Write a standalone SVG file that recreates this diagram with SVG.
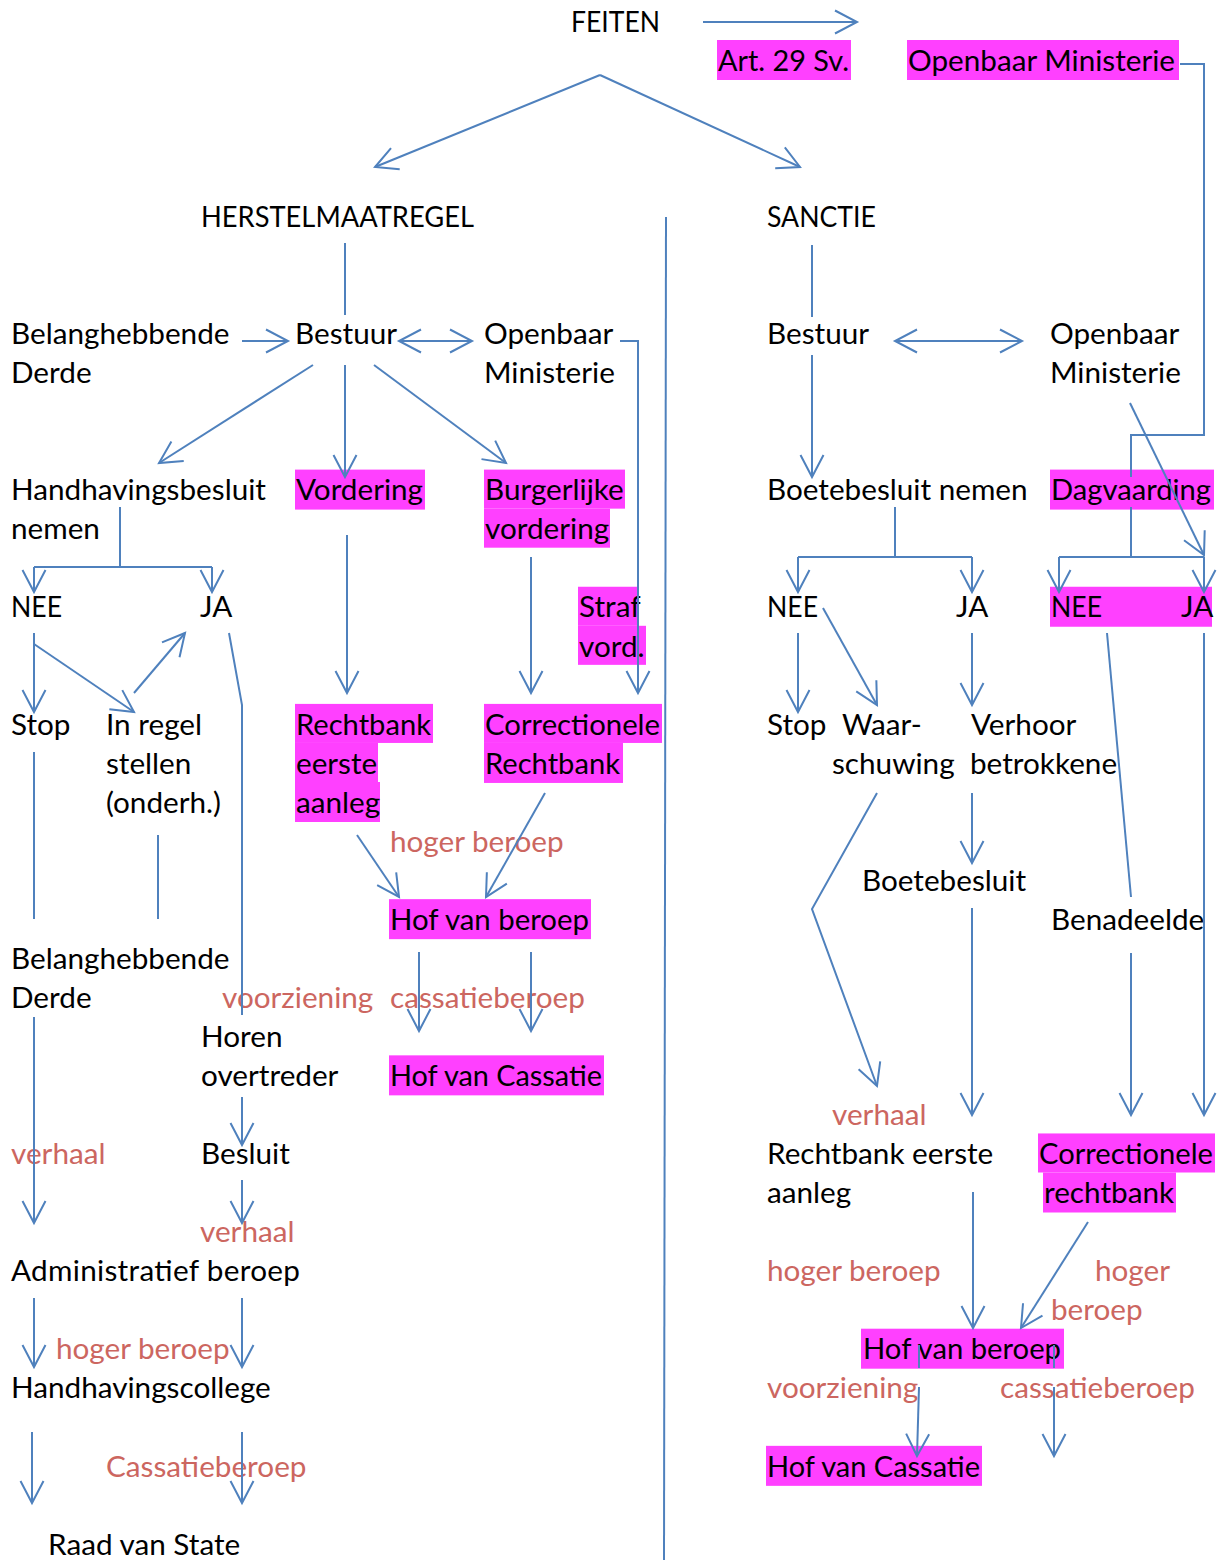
<svg xmlns="http://www.w3.org/2000/svg" width="1224" height="1560" viewBox="0 0 1224 1560">
<style>
text{font-family:Lato,"Liberation Sans",sans-serif;font-size:29.7px;fill:#000}
text.r{fill:#CC6660}
rect.h{fill:#FF40FF;stroke:none}
#connectors path{fill:none;stroke:#4F81BD;stroke-width:2}
path.a{marker-end:url(#ah)}
path.d{marker-start:url(#ah);marker-end:url(#ah)}
</style>
<defs>
<marker id="ah" markerUnits="userSpaceOnUse" markerWidth="40" markerHeight="40" viewBox="-30 -20 40 40" refX="0" refY="0" orient="auto-start-reverse" overflow="visible">
<path d="M-22,-11.5 L0,0 L-22,11.5" fill="none" stroke="#4F81BD" stroke-width="2"/>
</marker>
</defs>
<rect width="1224" height="1560" fill="#fff"/>
<g id="n-feiten"><text x="571" y="31.7" textLength="89" lengthAdjust="spacingAndGlyphs">FEITEN</text></g>
<g id="n-art29"><rect class="h" x="717" y="40" width="134" height="40"/><text x="718" y="70.75" textLength="131" lengthAdjust="spacingAndGlyphs">Art. 29 Sv.</text></g>
<g id="n-om-top"><rect class="h" x="907" y="40" width="272" height="40"/><text x="908" y="70.75" textLength="267" lengthAdjust="spacingAndGlyphs">Openbaar Ministerie</text></g>
<g id="n-herstel"><text x="201" y="226.95" textLength="273" lengthAdjust="spacingAndGlyphs">HERSTELMAATREGEL</text></g>
<g id="n-sanctie"><text x="767" y="226.95" textLength="109" lengthAdjust="spacingAndGlyphs">SANCTIE</text></g>
<g id="n-belang1"><text x="11" y="344.1">Belanghebbende</text><text x="11" y="383.15">Derde</text></g>
<g id="n-bestuur-l"><text x="295" y="344.1">Bestuur</text></g>
<g id="n-om-l"><text x="484" y="344.1">Openbaar</text><text x="484" y="383.15">Ministerie</text></g>
<g id="n-bestuur-r"><text x="767" y="344.1">Bestuur</text></g>
<g id="n-om-r"><text x="1050" y="344.1">Openbaar</text><text x="1050" y="383.15">Ministerie</text></g>
<g id="n-handhavingsbesluit"><text x="11" y="500.3">Handhavingsbesluit</text><text x="11" y="539.35">nemen</text></g>
<g id="n-vordering"><rect class="h" x="295" y="469.6" width="130" height="40"/><text x="296" y="500.3" textLength="127" lengthAdjust="spacingAndGlyphs">Vordering</text></g>
<g id="n-burgerlijke"><rect class="h" x="484" y="469.6" width="141" height="39.05"/><rect class="h" x="484" y="508.65" width="126" height="39.05"/><text x="485" y="500.3">Burgerlijke</text><text x="485" y="539.35">vordering</text></g>
<g id="n-boetebesluit-nemen"><text x="767" y="500.3">Boetebesluit nemen</text></g>
<g id="n-dagvaarding"><rect class="h" x="1050" y="469.6" width="164" height="40"/><text x="1051" y="500.3" textLength="160" lengthAdjust="spacingAndGlyphs">Dagvaarding</text></g>
<g id="n-nee-l"><text x="11" y="617.45" textLength="51" lengthAdjust="spacingAndGlyphs">NEE</text></g>
<g id="n-ja-l"><text x="200" y="617.45">JA</text></g>
<g id="n-straf"><rect class="h" x="578" y="586.75" width="61" height="39.05"/><rect class="h" x="578" y="625.8" width="68" height="39.05"/><text x="579" y="617.45">Straf</text><text x="579" y="656.5">vord.</text></g>
<g id="n-nee-r"><text x="767" y="617.45" textLength="51" lengthAdjust="spacingAndGlyphs">NEE</text></g>
<g id="n-ja-r"><text x="956" y="617.45">JA</text></g>
<g id="n-neeja"><rect class="h" x="1050" y="586.75" width="162" height="40"/><text x="1051" y="617.45" textLength="51" lengthAdjust="spacingAndGlyphs">NEE</text><text x="1181" y="617.45">JA</text></g>
<g id="n-stop-l"><text x="11" y="734.6">Stop</text></g>
<g id="n-inregel"><text x="106" y="734.6">In regel</text><text x="106" y="773.65">stellen</text><text x="106" y="812.7">(onderh.)</text></g>
<g id="n-rechtbank-ea"><rect class="h" x="295" y="703.9" width="138" height="39.05"/><rect class="h" x="295" y="742.95" width="83" height="39.05"/><rect class="h" x="295" y="782" width="85" height="40"/><text x="296" y="734.6" textLength="135" lengthAdjust="spacingAndGlyphs">Rechtbank</text><text x="296" y="773.65">eerste</text><text x="296" y="812.7">aanleg</text></g>
<g id="n-correctionele-m"><rect class="h" x="484" y="703.9" width="178" height="39.05"/><rect class="h" x="484" y="742.95" width="139" height="40"/><text x="485" y="734.6" textLength="175" lengthAdjust="spacingAndGlyphs">Correctionele</text><text x="485" y="773.65" textLength="135" lengthAdjust="spacingAndGlyphs">Rechtbank</text></g>
<g id="n-stop-r"><text x="767" y="734.6">Stop</text></g>
<g id="n-waarschuwing"><text x="842" y="734.6">Waar-</text><text x="832" y="773.65">schuwing</text></g>
<g id="n-verhoor"><text x="971" y="734.6">Verhoor</text><text x="970" y="773.65">betrokkene</text></g>
<g id="l-hoger-beroep-m"><text class="r" x="390" y="851.75">hoger beroep</text></g>
<g id="n-boetebesluit"><text x="862" y="890.8">Boetebesluit</text></g>
<g id="n-hof-beroep-m"><rect class="h" x="389" y="899.15" width="202" height="40"/><text x="390" y="929.85" textLength="199" lengthAdjust="spacingAndGlyphs">Hof van beroep</text></g>
<g id="n-benadeelde"><text x="1051" y="929.85">Benadeelde</text></g>
<g id="n-belang2"><text x="11" y="968.9">Belanghebbende</text><text x="11" y="1007.95">Derde</text></g>
<g id="l-voorziening-m"><text class="r" x="222" y="1007.95">voorziening</text></g>
<g id="l-cassatie-m"><text class="r" x="390" y="1007.95">cassatieberoep</text></g>
<g id="n-horen"><text x="201" y="1047">Horen</text><text x="201" y="1086.05">overtreder</text></g>
<g id="n-hof-cassatie-m"><rect class="h" x="389" y="1055.35" width="215" height="40"/><text x="390" y="1086.05" textLength="212" lengthAdjust="spacingAndGlyphs">Hof van Cassatie</text></g>
<g id="l-verhaal-r"><text class="r" x="832" y="1125.1">verhaal</text></g>
<g id="l-verhaal-l1"><text class="r" x="11" y="1164.15">verhaal</text></g>
<g id="n-besluit"><text x="201" y="1164.15">Besluit</text></g>
<g id="n-rechtbank-ea-r"><text x="767" y="1164.15">Rechtbank eerste</text><text x="767" y="1203.2">aanleg</text></g>
<g id="n-correctionele-r"><rect class="h" x="1038" y="1133.45" width="177" height="39.05"/><rect class="h" x="1043" y="1172.5" width="133" height="40"/><text x="1039" y="1164.15" textLength="174" lengthAdjust="spacingAndGlyphs">Correctionele</text><text x="1044" y="1203.2">rechtbank</text></g>
<g id="l-verhaal-l2"><text class="r" x="200" y="1242.25">verhaal</text></g>
<g id="n-administratief"><text x="11" y="1281.3" textLength="289" lengthAdjust="spacing">Administratief beroep</text></g>
<g id="l-hoger-beroep-r"><text class="r" x="767" y="1281.3">hoger beroep</text></g>
<g id="l-hoger-beroep-r2"><text class="r" x="1095" y="1281.3">hoger</text><text class="r" x="1051" y="1320.35">beroep</text></g>
<g id="l-hoger-beroep-l"><text class="r" x="56" y="1359.4">hoger beroep</text></g>
<g id="n-hof-beroep-r"><rect class="h" x="861" y="1328.7" width="203" height="40"/><text x="863" y="1359.4" textLength="198" lengthAdjust="spacingAndGlyphs">Hof van beroep</text></g>
<g id="n-handhavingscollege"><text x="11" y="1398.45">Handhavingscollege</text></g>
<g id="l-voorziening-r"><text class="r" x="767" y="1398.45">voorziening</text></g>
<g id="l-cassatie-r"><text class="r" x="1000" y="1398.45">cassatieberoep</text></g>
<g id="l-cassatieberoep-l"><text class="r" x="106" y="1476.55">Cassatieberoep</text></g>
<g id="n-hof-cassatie-r"><rect class="h" x="766" y="1445.85" width="216" height="40"/><text x="767" y="1476.55" textLength="213" lengthAdjust="spacingAndGlyphs">Hof van Cassatie</text></g>
<g id="n-raad"><text x="48" y="1554.65">Raad van State</text></g>
<g id="connectors">
<path class="a" d="M703,22 H857"/>
<path class="a" d="M600,75 L375,167"/>
<path class="a" d="M600,75 L800,167"/>
<path d="M1180,64 H1204 V435 H1131 V477"/>
<path d="M1131,507 V557 M1059,557 H1204"/>
<path class="a" d="M1059,557 V592"/>
<path class="a" d="M1204,557 V592"/>
<path class="a" d="M1130,403 L1204,555"/>
<path d="M345,243 V315"/>
<path class="a" d="M242,341 H288"/>
<path class="d" d="M399,341 H472"/>
<path class="a" d="M620,341 H638 V693"/>
<path class="a" d="M313,365 L159,463"/>
<path class="a" d="M345,365 V477"/>
<path class="a" d="M374,365 L506,463"/>
<path d="M666,217 L664,1560"/>
<path d="M120,507 V567 M34,567 H212"/>
<path class="a" d="M34,567 V592"/>
<path class="a" d="M212,567 V592"/>
<path class="a" d="M34,633 V712"/>
<path class="a" d="M34,644 L134,712"/>
<path class="a" d="M134,693 L185,633"/>
<path d="M229,633 L242,705 V1015"/>
<path class="a" d="M242,1097 V1145"/>
<path d="M34,752 V919"/>
<path d="M158,835 V919"/>
<path class="a" d="M34,1017 V1223"/>
<path class="a" d="M242,1180 V1223"/>
<path class="a" d="M34,1298 V1367"/>
<path class="a" d="M242,1298 V1367"/>
<path class="a" d="M32,1432 V1503"/>
<path class="a" d="M242,1432 V1503"/>
<path class="a" d="M347,535 V693"/>
<path class="a" d="M531,557 V693"/>
<path class="a" d="M357,835 L399,897"/>
<path class="a" d="M545,793 L486,897"/>
<path class="a" d="M419,952 V1031"/>
<path class="a" d="M531,952 V1031"/>
<path d="M812,245 V317"/>
<path class="d" d="M895,341 H1022"/>
<path class="a" d="M812,355 V477"/>
<path d="M895,507 V557 M798,557 H972"/>
<path class="a" d="M798,557 V592"/>
<path class="a" d="M972,557 V592"/>
<path class="a" d="M798,633 V712"/>
<path class="a" d="M823,608 L877,705"/>
<path class="a" d="M972,633 V705"/>
<path class="a" d="M972,793 V863"/>
<path class="a" d="M972,908 V1115"/>
<path class="a" d="M877,793 L812,909 L877,1086"/>
<path d="M1107,633 L1131,897"/>
<path class="a" d="M1204,633 V1115"/>
<path class="a" d="M1131,953 V1115"/>
<path class="a" d="M973,1192 V1328"/>
<path class="a" d="M1088,1222 L1021,1328"/>
<path d="M919,1345 V1368"/>
<path class="a" d="M919,1387 L917,1456"/>
<path d="M1054,1345 V1368"/>
<path class="a" d="M1054,1387 V1456"/>
</g>
</svg>
